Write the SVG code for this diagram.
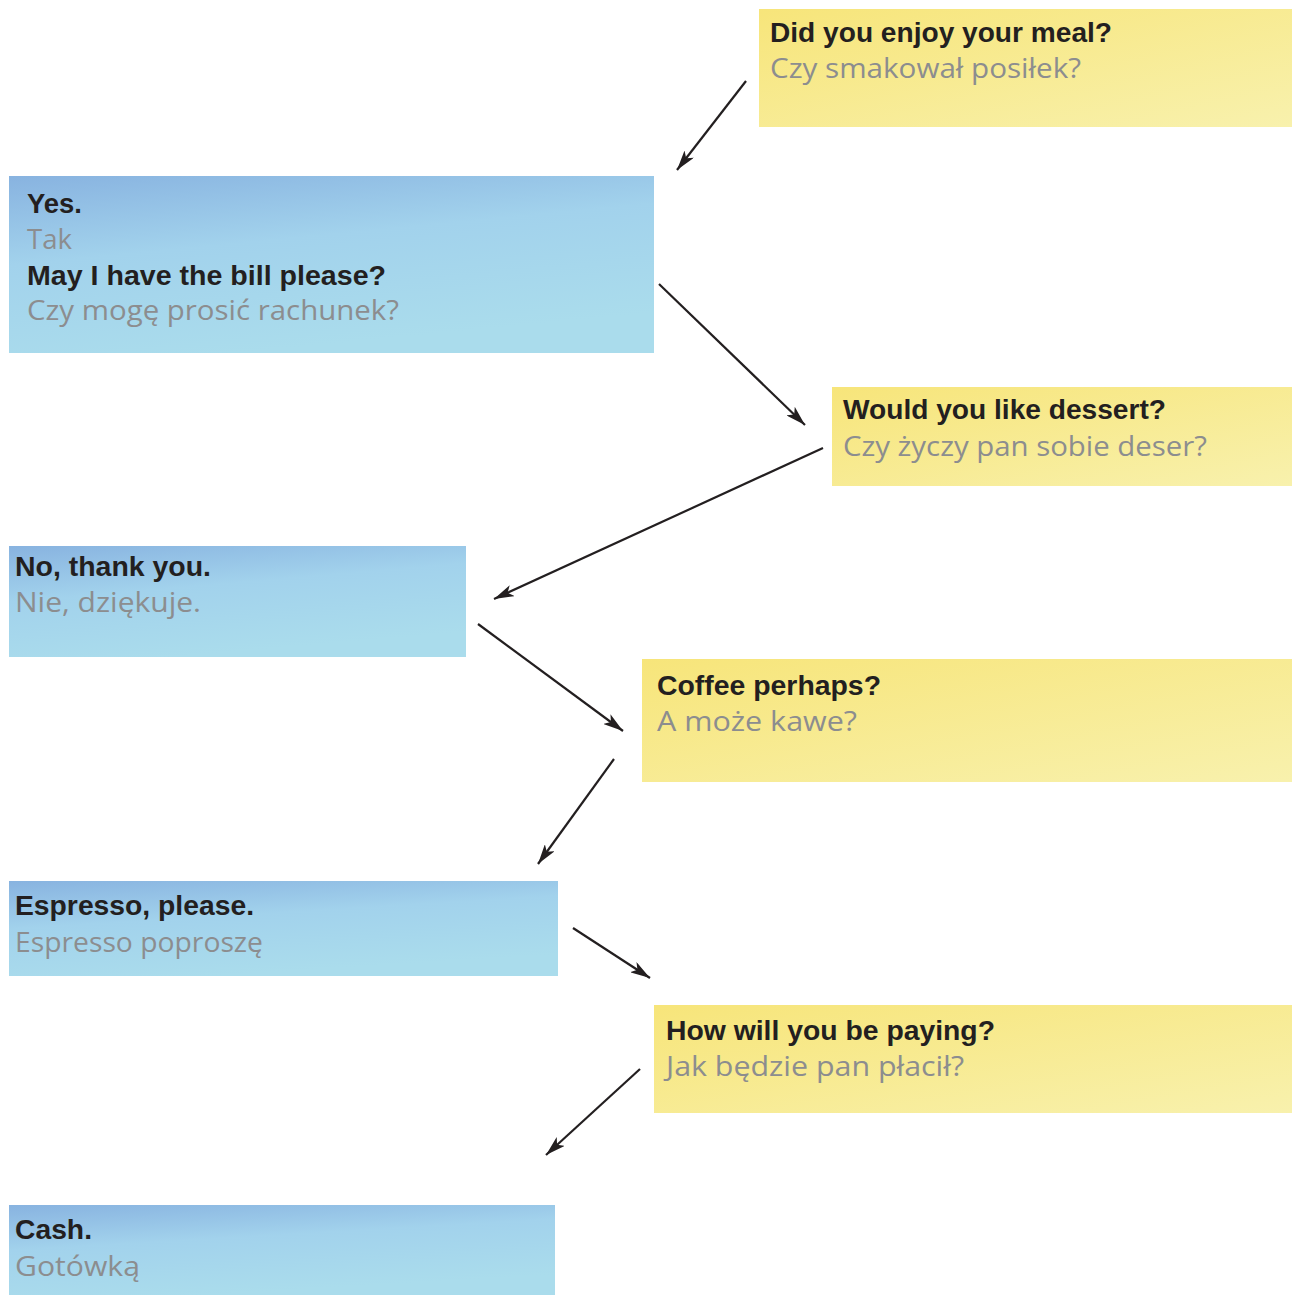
<svg xmlns="http://www.w3.org/2000/svg" width="1292" height="1295" viewBox="0 0 1292 1295">
<defs>
<linearGradient id="gy" x1="0" y1="0" x2="1" y2="1">
<stop offset="0" stop-color="#f7e57a"/>
<stop offset="1" stop-color="#f8f1ad"/>
</linearGradient>
<linearGradient id="gb" x1="0" y1="0" x2="0.35" y2="1">
<stop offset="0" stop-color="#88b3e0"/>
<stop offset="0.45" stop-color="#a2d2ec"/>
<stop offset="1" stop-color="#aadcec"/>
</linearGradient>
<marker id="ah" viewBox="0 0 20 12" refX="20" refY="6" markerWidth="20" markerHeight="12" markerUnits="userSpaceOnUse" orient="auto">
<path d="M0,0 L20,6 L0,12 L5,6 Z" fill="#231f20"/>
</marker>
<style>
.y{fill:url(#gy)}
.b{fill:url(#gb)}
.en{font-family:"Liberation Sans",Arial,sans-serif;font-size:27px;font-weight:bold;fill:#231f20}
.pl{font-family:"Open Sans","Noto Sans",sans-serif;font-size:28px;fill:#8c8d8f}
.c{stroke:#231f20;stroke-width:2.2;fill:none;marker-end:url(#ah)}
</style>
</defs>
<rect width="1292" height="1295" fill="#fff"/>
<g id="n1"><rect class="y" x="759" y="9" width="533" height="118"/><text class="en" x="770" y="42" textLength="342" lengthAdjust="spacingAndGlyphs">Did you enjoy your meal?</text><text class="pl" x="770" y="78" textLength="311" lengthAdjust="spacingAndGlyphs">Czy smakował posiłek?</text></g>
<g id="n2"><rect class="b" x="9" y="176" width="645" height="177"/><text class="en" x="27" y="213" textLength="55" lengthAdjust="spacingAndGlyphs">Yes.</text><text class="pl" x="27" y="249" textLength="45" lengthAdjust="spacingAndGlyphs">Tak</text><text class="en" x="27" y="285" textLength="359" lengthAdjust="spacingAndGlyphs">May I have the bill please?</text><text class="pl" x="27" y="320" textLength="372" lengthAdjust="spacingAndGlyphs">Czy mogę prosić rachunek?</text></g>
<g id="n3"><rect class="y" x="832" y="387" width="460" height="99"/><text class="en" x="843" y="419" textLength="323" lengthAdjust="spacingAndGlyphs">Would you like dessert?</text><text class="pl" x="843" y="456" textLength="364" lengthAdjust="spacingAndGlyphs">Czy życzy pan sobie deser?</text></g>
<g id="n4"><rect class="b" x="9" y="546" width="457" height="111"/><text class="en" x="15" y="576" textLength="196" lengthAdjust="spacingAndGlyphs">No, thank you.</text><text class="pl" x="15" y="612" textLength="186" lengthAdjust="spacingAndGlyphs">Nie, dziękuje.</text></g>
<g id="n5"><rect class="y" x="642" y="659" width="650" height="123"/><text class="en" x="657" y="695" textLength="224" lengthAdjust="spacingAndGlyphs">Coffee perhaps?</text><text class="pl" x="657" y="731" textLength="200" lengthAdjust="spacingAndGlyphs">A może kawe?</text></g>
<g id="n6"><rect class="b" x="9" y="881" width="549" height="95"/><text class="en" x="15" y="915" textLength="239" lengthAdjust="spacingAndGlyphs">Espresso, please.</text><text class="pl" x="15" y="952" textLength="248" lengthAdjust="spacingAndGlyphs">Espresso poproszę</text></g>
<g id="n7"><rect class="y" x="654" y="1005" width="638" height="108"/><text class="en" x="666" y="1040" textLength="329" lengthAdjust="spacingAndGlyphs">How will you be paying?</text><text class="pl" x="666" y="1076" textLength="298" lengthAdjust="spacingAndGlyphs">Jak będzie pan płacił?</text></g>
<g id="n8"><rect class="b" x="9" y="1205" width="546" height="90"/><text class="en" x="15" y="1239" textLength="77" lengthAdjust="spacingAndGlyphs">Cash.</text><text class="pl" x="15" y="1276" textLength="125" lengthAdjust="spacingAndGlyphs">Gotówką</text></g>
<g id="connectors">
<line class="c" x1="746" y1="81" x2="677" y2="170"/>
<line class="c" x1="659" y1="284" x2="805" y2="425"/>
<line class="c" x1="823" y1="448" x2="494" y2="599"/>
<line class="c" x1="478" y1="624" x2="623" y2="731"/>
<line class="c" x1="614" y1="759" x2="538" y2="864"/>
<line class="c" x1="573" y1="928" x2="650" y2="978"/>
<line class="c" x1="640" y1="1069" x2="546" y2="1155"/>
</g>
</svg>
